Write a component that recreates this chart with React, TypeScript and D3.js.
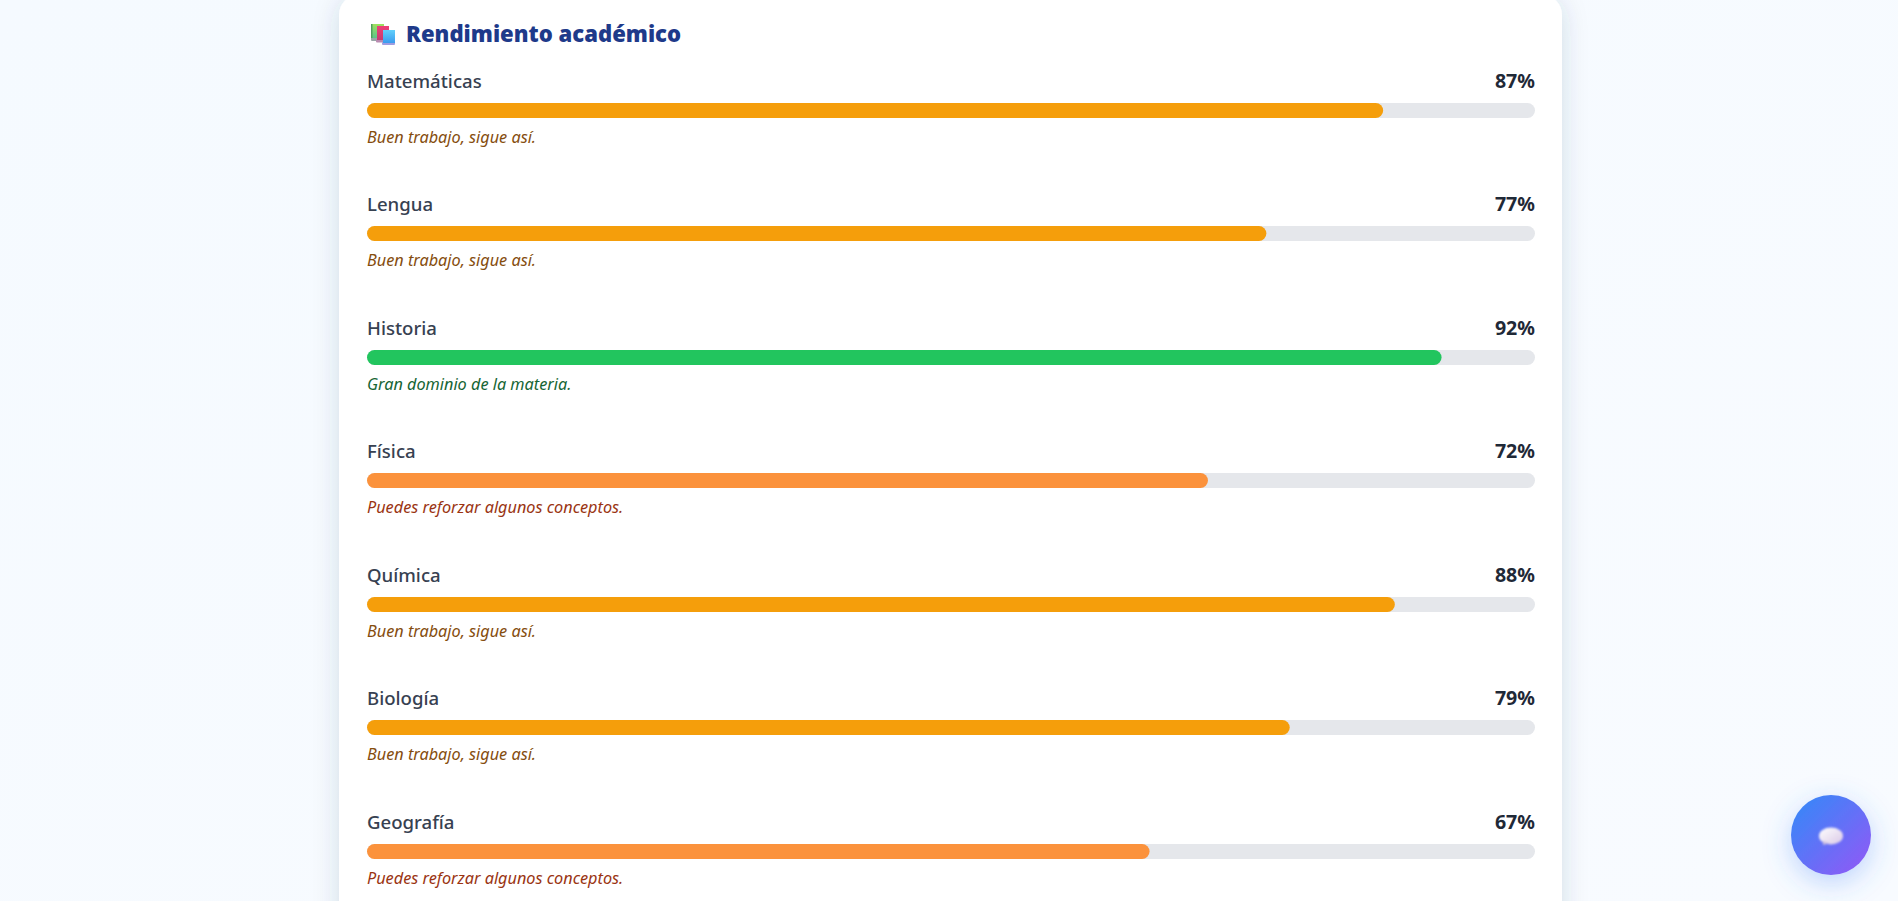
import React from "react";
import * as d3 from "d3";

const subjects = ["Matemáticas", "Lengua", "Historia", "Física", "Química", "Biología", "Geografía"];
const scores = [87, 77, 92, 72, 88, 79, 67];
const tiers = ["good", "good", "top", "low", "good", "good", "low"];
const tierFill: Record<string, string> = { top: "#22c55e", good: "#f59e0b", low: "#fb923c" };
const tierText: Record<string, string> = { top: "#166534", good: "#854d0e", low: "#9a3412" };
const tierNote: Record<string, string> = {
  top: "Gran dominio de la materia.",
  good: "Buen trabajo, sigue así.",
  low: "Puedes reforzar algunos conceptos.",
};
const title = "Rendimiento académico";

const W = 1898, H = 901;
const FONT = "'Noto Sans', 'Open Sans', sans-serif";

export default function App() {
  const x = d3.scaleLinear().domain([0, 100]).range([367, 1535]);
  const y = d3.scaleLinear().domain([0, subjects.length - 1]).range([103, 103 + 123.5 * 6]);
  const barH = 15;
  return (
    <svg width={W} height={H} viewBox={`0 0 ${W} ${H}`} style={{ position: "absolute", left: 0, top: 0, display: "block" }}>
      <defs>
        <linearGradient id="bg" x1="0" y1="0" x2="1" y2="1">
          <stop offset="0" stopColor="#f5faff" />
          <stop offset="1" stopColor="#f8fbff" />
        </linearGradient>
        <linearGradient id="fab" x1="0" y1="0" x2="1" y2="1">
          <stop offset="0.15" stopColor="#3f83f8" />
          <stop offset="0.9" stopColor="#8b5cf6" />
        </linearGradient>
        <linearGradient id="bub" x1="0" y1="0" x2="1" y2="1">
          <stop offset="0" stopColor="#ffffff" />
          <stop offset="1" stopColor="#d9c8e6" />
        </linearGradient>
        <linearGradient id="bk1" x1="0" y1="0" x2="0" y2="1">
          <stop offset="0" stopColor="#9fe05f" />
          <stop offset="1" stopColor="#5cc48a" />
        </linearGradient>
        <linearGradient id="bk2" x1="0" y1="0" x2="0" y2="1">
          <stop offset="0" stopColor="#ee3f78" />
          <stop offset="1" stopColor="#c83a6e" />
        </linearGradient>
        <linearGradient id="bk3" x1="0" y1="0" x2="0" y2="1">
          <stop offset="0" stopColor="#62d0fb" />
          <stop offset="1" stopColor="#3b9bee" />
        </linearGradient>
        <filter id="cardShadow" x="-10%" y="-10%" width="120%" height="120%">
          <feDropShadow dx="0" dy="4" stdDeviation="13" floodColor="#1e3a5f" floodOpacity="0.16" />
        </filter>
        <filter id="fabShadow" x="-80%" y="-80%" width="260%" height="260%">
          <feDropShadow dx="0" dy="8" stdDeviation="14" floodColor="#3b82f6" floodOpacity="0.32" />
        </filter>
        <filter id="soft"><feGaussianBlur stdDeviation="0.8" /></filter>
      </defs>
      <rect width={W} height={H} fill="url(#bg)" />
      <rect x={339} y={-5} width={1223} height={H + 80} rx={20} fill="#fff" filter="url(#cardShadow)" />

      <g>
        <rect x={371} y={24} width={12} height={17} rx={1} fill="#9aa7a8" />
        <rect x={371} y={24} width={13} height={14} fill="url(#bk1)" />
        <rect x={371} y={24} width={1.5} height={14} fill="#4fa05c" />
        <rect x={376} y={39} width={13} height={3.5} rx={1} fill="#b98bb0" />
        <rect x={377} y={26} width={12} height={14} fill="url(#bk2)" />
        <rect x={382} y={42} width={13} height={3} rx={1} fill="#9f9ce0" />
        <rect x={383} y={30} width={12} height={13} fill="url(#bk3)" />
      </g>
      <text x={406} y={42} fontFamily={FONT} fontSize={22.1} fontWeight={900} fill="#1e3a8a">{title}</text>

      {subjects.map((s, i) => {
        const top = Math.floor(y(i));
        const tier = tiers[i];
        return (
          <g key={s}>
            <text x={x(0)} y={top - 15} fontFamily={FONT} fontSize={18.6} fontWeight={500} fill="#374151">{s}</text>
            <text x={x(100)} y={top - 15} textAnchor="end" fontFamily={FONT} fontSize={19.6} fontWeight={700} fill="#1f2937">{scores[i]}%</text>
            <rect x={x(0)} y={top} width={x(100) - x(0)} height={barH} rx={7.5} fill="#e5e7eb" />
            <rect x={x(0)} y={top} width={x(scores[i]) - x(0)} height={barH} rx={7.5} fill={tierFill[tier]} />
            <text x={x(0)} y={top + 40} fontFamily={FONT} fontStyle="italic" fontSize={16.25} fill={tierText[tier]}>{tierNote[tier]}</text>
          </g>
        );
      })}

      <circle cx={1831} cy={835} r={40} fill="url(#fab)" filter="url(#fabShadow)" />
      <g filter="url(#soft)">
        <ellipse cx={1831} cy={836} rx={12} ry={8.5} fill="url(#bub)" />
        <path d="M1823 841 L1823 845 L1830 843 Z" fill="#cdbfe0" />
      </g>
    </svg>
  );
}
